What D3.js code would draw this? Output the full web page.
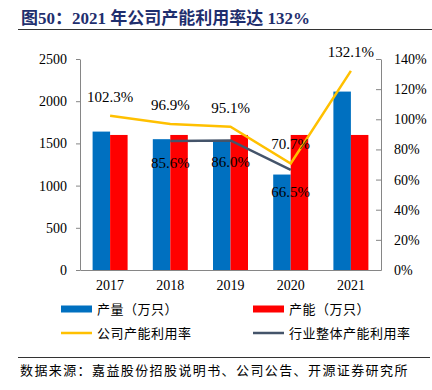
<!DOCTYPE html>
<html>
<head>
<meta charset="utf-8">
<script src="https://cdn.jsdelivr.net/npm/d3@7"></script>
<style>
  body { margin: 0; background: #fff; }
  text { font-family: "Liberation Serif", "Noto Sans CJK SC", serif; }
  .cjk { font-family: "Noto Sans CJK SC", sans-serif; }
</style>
</head>
<body>
<div id="chart"></div>
<script>
// データ
const years = ['2017', '2018', '2019', '2020', '2021'];
const output = [1640, 1550, 1522, 1131, 2114];     // 产量（万只）
const capacity = [1600, 1600, 1600, 1600, 1600];   // 产能（万只）
const companyRate = [102.3, 96.9, 95.1, 70.7, 132.1];
const industryYears = ['2018', '2019', '2020'];
const industryRate = [85.6, 86.0, 66.5];
const leftTicks = [0, 500, 1000, 1500, 2000, 2500];
const rightTicks = [0, 20, 40, 60, 80, 100, 120, 140];

const W = 432, H = 390;
const margin = { top: 59, right: 51, bottom: 120, left: 80 };
const plotW = W - margin.left - margin.right;
const y0 = H - margin.bottom;

const svg = d3.select('#chart').append('svg')
    .attr('width', W).attr('height', H);

// タイトル
svg.append('text')
    .attr('x', 21).attr('y', 24)
    .attr('font-size', 17).attr('font-weight', 'bold')
    .attr('fill', '#1f2f6e')
    .text('图50：2021 年公司产能利用率达 132%');
svg.append('line')
    .attr('x1', 18).attr('x2', 432).attr('y1', 29.5).attr('y2', 29.5)
    .attr('stroke', '#333').attr('stroke-width', 1);

// スケール
const x = d3.scaleBand().domain(years)
    .range([margin.left, margin.left + plotW]);
const yL = d3.scaleLinear().domain([0, 2500]).range([y0, margin.top]);
const yR = d3.scaleLinear().domain([0, 140]).range([y0, margin.top]);
const barW = 17.5;
const cx = d => x(d) + x.bandwidth() / 2;

// 棒グラフ
svg.append('g').selectAll('rect').data(years).enter().append('rect')
    .attr('x', d => cx(d) - barW)
    .attr('y', (d, i) => yL(output[i]))
    .attr('width', barW)
    .attr('height', (d, i) => y0 - yL(output[i]))
    .attr('fill', '#0070c0');
svg.append('g').selectAll('rect').data(years).enter().append('rect')
    .attr('x', d => cx(d))
    .attr('y', (d, i) => yL(capacity[i]))
    .attr('width', barW)
    .attr('height', (d, i) => y0 - yL(capacity[i]))
    .attr('fill', '#ff0000');

// 折れ線
const line = d3.line().x(d => cx(d[0])).y(d => yR(d[1]));
svg.append('path')
    .datum(industryYears.map((d, i) => [d, industryRate[i]]))
    .attr('d', line).attr('fill', 'none')
    .attr('stroke', '#44546a').attr('stroke-width', 2.5);
svg.append('path')
    .datum(years.map((d, i) => [d, companyRate[i]]))
    .attr('d', line).attr('fill', 'none')
    .attr('stroke', '#ffc000').attr('stroke-width', 2.5);

// データラベル
svg.append('g').selectAll('text').data(years).enter().append('text')
    .attr('x', d => cx(d))
    .attr('y', (d, i) => yR(companyRate[i]) - 14)
    .attr('text-anchor', 'middle').attr('font-size', 15)
    .text((d, i) => companyRate[i].toFixed(1) + '%');
svg.append('g').selectAll('text').data(industryYears).enter().append('text')
    .attr('x', d => cx(d))
    .attr('y', (d, i) => yR(industryRate[i]) + 27)
    .attr('text-anchor', 'middle').attr('font-size', 15)
    .text((d, i) => industryRate[i].toFixed(1) + '%');

// 軸
const axisColor = '#868686';
const gl = svg.append('g')
    .attr('transform', `translate(${margin.left},0)`)
    .call(d3.axisLeft(yL).tickValues(leftTicks).tickFormat(d3.format('d'))
        .tickSizeInner(4).tickSizeOuter(0).tickPadding(9));
const gr = svg.append('g')
    .attr('transform', `translate(${margin.left + plotW},0)`)
    .call(d3.axisRight(yR).tickValues(rightTicks).tickSizeInner(-5).tickSizeOuter(0).tickPadding(13)
        .tickFormat(d => d + '%'));
const gb = svg.append('g')
    .attr('transform', `translate(0,${y0})`)
    .call(d3.axisBottom(x).tickSize(0).tickPadding(10));
[gl, gr, gb].forEach(g => {
    g.selectAll('path, line').attr('stroke', axisColor);
    g.selectAll('text').attr('font-size', 14).attr('fill', '#000')
        .attr('font-family', '"Liberation Serif", serif');
});

// 凡例
const legend = [
    { label: '产量（万只）', color: '#0070c0', type: 'bar', x: 61, y: 309 },
    { label: '产能（万只）', color: '#ff0000', type: 'bar', x: 253, y: 309 },
    { label: '公司产能利用率', color: '#ffc000', type: 'line', x: 61, y: 333 },
    { label: '行业整体产能利用率', color: '#44546a', type: 'line', x: 253, y: 333 }
];
const lg = svg.append('g').selectAll('g').data(legend).enter().append('g')
    .attr('transform', d => `translate(${d.x},${d.y})`);
lg.append('rect')
    .attr('x', 0).attr('width', 31)
    .attr('y', d => d.type === 'bar' ? -3.5 : -1.25)
    .attr('height', d => d.type === 'bar' ? 7 : 2.5)
    .attr('fill', d => d.color);
lg.append('text')
    .attr('class', 'cjk')
    .attr('x', 36).attr('y', 4.5)
    .attr('font-size', 13).attr('letter-spacing', 0.5)
    .text(d => d.label);

// 出典
svg.append('line')
    .attr('x1', 18).attr('x2', 430).attr('y1', 357.5).attr('y2', 357.5)
    .attr('stroke', '#333').attr('stroke-width', 1);
svg.append('text')
    .attr('class', 'cjk')
    .attr('x', 20).attr('y', 375)
    .attr('font-size', 13).attr('letter-spacing', 1.4)
    .text('数据来源：嘉益股份招股说明书、公司公告、开源证券研究所');
</script>
</body>
</html>
